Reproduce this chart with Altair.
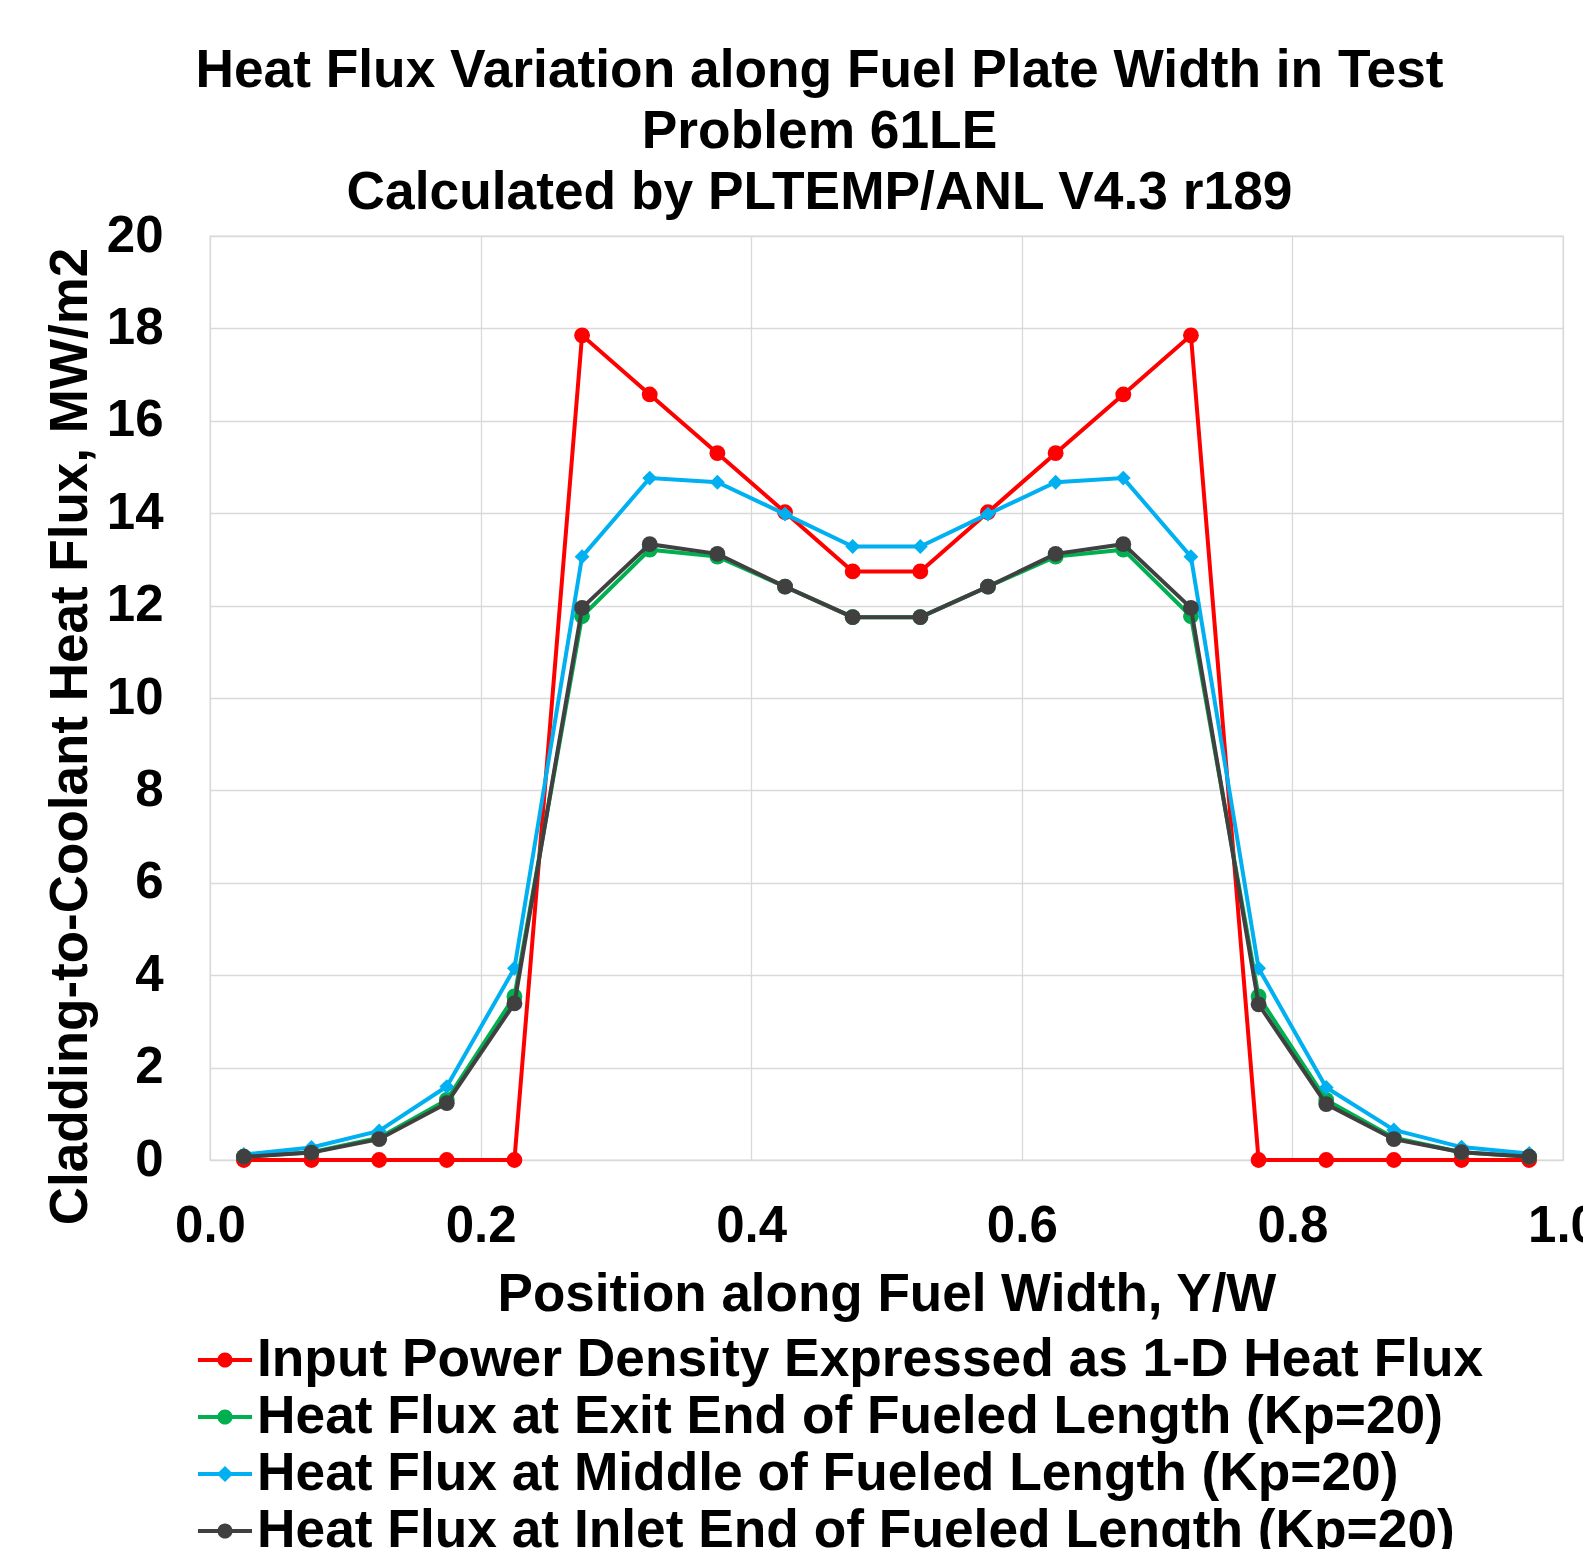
import altair as alt
import pandas as pd

# ---- data ----
x_pos = [0.025, 0.075, 0.125, 0.175, 0.225, 0.275, 0.325, 0.375, 0.425, 0.475,
         0.525, 0.575, 0.625, 0.675, 0.725, 0.775, 0.825, 0.875, 0.925, 0.975]
input_flux = [0, 0, 0, 0, 0, 17.85, 16.57, 15.30, 14.02, 12.74,
              12.74, 14.02, 15.30, 16.57, 17.85, 0, 0, 0, 0, 0]
exit_flux = [0.07, 0.17, 0.48, 1.30, 3.54, 11.77, 13.21, 13.06, 12.41, 11.75,
             11.75, 12.41, 13.06, 13.21, 11.77, 3.54, 1.30, 0.48, 0.17, 0.07]
middle_flux = [0.12, 0.27, 0.63, 1.59, 4.15, 13.06, 14.76, 14.67, 13.98, 13.28,
               13.28, 13.98, 14.67, 14.76, 13.06, 4.15, 1.57, 0.65, 0.28, 0.14]
inlet_flux = [0.07, 0.16, 0.45, 1.23, 3.39, 11.95, 13.33, 13.12, 12.41, 11.75,
              11.75, 12.41, 13.12, 13.33, 11.95, 3.37, 1.21, 0.45, 0.17, 0.07]

series_names = [
    "Input Power Density Expressed as 1-D Heat Flux",
    "Heat Flux at Exit End of Fueled Length (Kp=20)",
    "Heat Flux at Middle of Fueled Length (Kp=20)",
    "Heat Flux at Inlet End of Fueled Length (Kp=20)",
]
series_values = [input_flux, exit_flux, middle_flux, inlet_flux]
series_colors = ["#FF0000", "#00B050", "#00B0F0", "#404040"]
series_shapes = ["circle", "circle", "diamond", "circle"]
series_sizes = [250, 250, 220, 250]

x_ticks = [0.0, 0.2, 0.4, 0.6, 0.8, 1.0]
y_ticks = [0, 2, 4, 6, 8, 10, 12, 14, 16, 18, 20]

title_lines = ["Heat Flux Variation along Fuel Plate Width in Test",
               "Problem 61LE",
               "Calculated by PLTEMP/ANL V4.3 r189"]

# legend symbols: line segment with marker
circle_leg = ("M-1,-0.075H-0.27V0.075H-1Z M0.27,-0.075H1V0.075H0.27Z "
              "M0.28,0A0.28,0.28,0,1,1,-0.28,0A0.28,0.28,0,1,1,0.28,0Z")
diamond_leg = ("M-1,-0.075H-0.225V0.075H-1Z M0.225,-0.075H1V0.075H0.225Z "
               "M0,-0.3L0.3,0L0,0.3L-0.3,0Z")
legend_paths = [circle_leg, circle_leg, diamond_leg, circle_leg]

rows = []
for name, vals in zip(series_names, series_values):
    for xv, yv in zip(x_pos, vals):
        rows.append({"x": xv, "y": yv, "series": name})
df = pd.DataFrame(rows)

FONT = "Liberation Sans"

x_enc = alt.X("x:Q", scale=alt.Scale(domain=[0, 1], nice=False),
              axis=alt.Axis(values=x_ticks, format=".1f",
                            title="Position along Fuel Width, Y/W",
                            grid=True, ticks=False, domain=False,
                            labelFontSize=51, labelPadding=41,
                            labelFlush=False, labelOverlap=False, labelBound=False,
                            titleFontSize=53, titleBaseline="alphabetic", titleY=150))
y_enc = alt.Y("y:Q", scale=alt.Scale(domain=[0, 20], nice=False),
              axis=alt.Axis(values=y_ticks, format="d",
                            title="Cladding-to-Coolant Heat Flux, MW/m2",
                            grid=True, ticks=False, domain=False,
                            labelFontSize=51, labelPadding=47,
                            labelFlush=False, labelOverlap=False, labelBound=False,
                            titleFontSize=53, titleAngle=270,
                            titleBaseline="alphabetic", titleAlign="center",
                            titleX=-124, titleY=500))
color_scale = alt.Scale(domain=series_names, range=series_colors)

base = alt.Chart(df)
layers = []
for name, shape, size in zip(series_names, series_shapes, series_sizes):
    sub = base.transform_filter(alt.datum.series == name)
    layers.append(sub.mark_line(strokeWidth=4).encode(
        x=x_enc, y=y_enc,
        color=alt.Color("series:N", scale=color_scale, legend=None)))
    layers.append(sub.mark_point(filled=True, size=size, shape=shape, opacity=1).encode(
        x=x_enc, y=y_enc,
        color=alt.Color("series:N", scale=color_scale, legend=None)))

leg = alt.Legend(title=None, orient="none", legendX=-12, legendY=1097,
                 padding=0, symbolSize=2916, symbolStrokeWidth=0,
                 symbolOpacity=1, labelFontSize=53.3, labelFont=FONT,
                 labelFontWeight="bold", labelColor="black", labelOffset=5,
                 rowPadding=3, labelLimit=0, symbolLimit=0)

legend_layer = base.mark_point(filled=True, opacity=0).encode(
    x=x_enc, y=y_enc,
    color=alt.Color("series:N", scale=color_scale, legend=leg),
    shape=alt.Shape("series:N", scale=alt.Scale(domain=series_names, range=legend_paths),
                    legend=leg),
)
layers.append(legend_layer)

chart = alt.layer(*layers).resolve_legend(
    color="independent", shape="independent"
).properties(
    width=1353, height=924,
    autosize=alt.AutoSizeParams(type="none"),
    padding={"left": 202, "top": 228, "right": 20, "bottom": 389},
    title=alt.TitleParams(text=title_lines, fontSize=53.3, font=FONT,
                          fontWeight="bold", color="black", lineHeight=61,
                          anchor="middle", offset=0, dx=-67, dy=10),
).configure(font=FONT, background="white").configure_view(
    stroke="#d9d9d9", strokeWidth=1.3
).configure_axis(
    labelFont=FONT, labelFontWeight="bold", labelColor="black",
    titleFont=FONT, titleFontWeight="bold", titleColor="black",
    gridColor="#d9d9d9", gridWidth=1.3
)

chart.save("out.html", embed_options={"renderer": "svg", "actions": False})
